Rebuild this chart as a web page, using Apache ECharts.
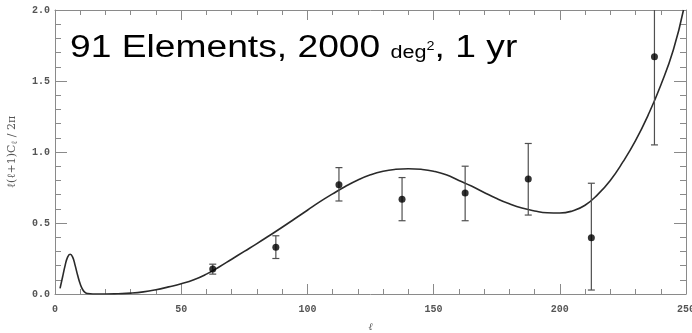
<!DOCTYPE html>
<html>
<head>
<meta charset="utf-8">
<script src="https://cdn.jsdelivr.net/npm/echarts@6/dist/echarts.min.js"></script>
<style>
html,body{margin:0;padding:0;background:#fff;}
#chart{width:692px;height:333px;}
</style>
</head>
<body>
<div id="chart"></div>
<script>
// Binned data points: multipole, value, lower and upper error
var binL   = [62.5, 87.5, 112.5, 137.5, 162.5, 187.5, 212.5, 237.5];
var binV   = [0.176, 0.33, 0.77, 0.667, 0.711, 0.81, 0.397, 1.67];
var binLo  = [0.14, 0.25, 0.655, 0.516, 0.516, 0.556, 0.028, 1.05];
var binHi  = [0.21, 0.41, 0.89, 0.82, 0.90, 1.06, 0.78, 2.3];

// Theory curve
var curveL = [2, 3, 4, 5, 6, 7, 8, 9, 10, 11, 12, 13, 15, 20, 25, 30, 35, 40, 45, 50,
              55, 60, 65, 70, 75, 80, 85, 90, 95, 100, 105, 110, 115, 120, 125, 130,
              135, 140, 145, 150, 155, 160, 165, 170, 175, 180, 185, 190, 195, 200,
              205, 210, 215, 220, 225, 230, 235, 240, 245, 249];
var curveV = [0.04, 0.12, 0.2, 0.26, 0.28, 0.26, 0.2, 0.13, 0.07, 0.03, 0.01, 0.003, 0.0, 0.0, 0.002, 0.006, 0.015, 0.03, 0.05, 0.072,
              0.1, 0.14, 0.19, 0.245, 0.3, 0.355, 0.412, 0.47, 0.53, 0.59, 0.65, 0.705, 0.757, 0.803, 0.84, 0.865,
              0.878, 0.882, 0.878, 0.865, 0.84, 0.80, 0.76, 0.715, 0.672, 0.635, 0.605, 0.585, 0.572, 0.57,
              0.585, 0.625, 0.70, 0.80, 0.93, 1.08, 1.26, 1.47, 1.72, 2.0];

var xTicks = [0, 50, 100, 150, 200, 250];
var yTicks = [0.0, 0.5, 1.0, 1.5, 2.0];

var chart = echarts.init(document.getElementById('chart'), null, {renderer: 'canvas'});

var axisCol = '#8a8a8a';
var labelFont = {color: '#555', fontFamily: 'Liberation Mono', fontWeight: 'bold', fontSize: 10};

function xAxisCfg(pos, show) {
  return {
    type: 'value', position: pos, min: xTicks[0], max: xTicks[xTicks.length - 1], interval: 50,
    axisLine: {show: true, onZero: false, lineStyle: {color: axisCol, width: 1}},
    axisTick: {show: true, inside: true, length: 10, lineStyle: {color: axisCol}},
    minorTick: {show: true, splitNumber: 5, length: 5, lineStyle: {color: axisCol}},
    splitLine: {show: false},
    axisLabel: Object.assign({show: show, margin: 10, formatter: function (v) { return String(v); }}, labelFont),
    name: show ? 'ℓ' : '', nameLocation: 'middle', nameGap: 28,
    nameTextStyle: {color: '#555', fontFamily: 'DejaVu Serif', fontStyle: 'italic', fontSize: 10}
  };
}
function yAxisCfg(pos, show) {
  return {
    type: 'value', position: pos, min: yTicks[0], max: yTicks[yTicks.length - 1], interval: 0.5,
    axisLine: {show: true, onZero: false, lineStyle: {color: axisCol, width: 1}},
    axisTick: {show: true, inside: true, length: 12, lineStyle: {color: axisCol}},
    minorTick: {show: true, splitNumber: 5, length: 6, lineStyle: {color: axisCol}},
    splitLine: {show: false},
    axisLabel: Object.assign({show: show, margin: 5, formatter: function (v) { return v.toFixed(1); }}, labelFont),
    name: show ? '{a|ℓ(ℓ+1)C}{s|ℓ}{a| / 2π}' : '', nameLocation: 'middle', nameGap: 36,
    nameTextStyle: {
      rich: {
        a: {color: '#555', fontFamily: 'DejaVu Serif', fontSize: 11},
        s: {color: '#555', fontFamily: 'DejaVu Serif', fontSize: 8, padding: [5, 0, 0, 0]}
      }
    }
  };
}

var pts = binL.map(function (l, i) { return [l, binV[i]]; });
var errs = binL.map(function (l, i) { return [l, binLo[i], binHi[i]]; });
var curve = curveL.map(function (l, i) { return [l, curveV[i]]; });

chart.setOption({
  animation: false,
  backgroundColor: '#fff',
  grid: {left: 55, right: 6, top: 10, bottom: 39, outerBoundsMode: 'none', containLabel: false},
  xAxis: [xAxisCfg('bottom', true), xAxisCfg('top', false)],
  yAxis: [yAxisCfg('left', true), yAxisCfg('right', false)],
  graphic: [{
    type: 'text', left: 70, top: 33, scaleX: 1.2,
    style: {
      text: '{a|91 Elements, 2000 }{b|deg}{c|2}{a|, 1 yr}',
      rich: {
        a: {fontFamily: 'Liberation Sans', fontSize: 31, fill: '#000', verticalAlign: 'bottom'},
        b: {fontFamily: 'Liberation Sans', fontSize: 18, fill: '#000', verticalAlign: 'bottom', padding: [0, 0, 2, 0]},
        c: {fontFamily: 'Liberation Sans', fontSize: 12, fill: '#000', verticalAlign: 'bottom', padding: [0, 0, 11, 0]}
      }
    }
  }],
  series: [
    {
      type: 'line', data: curve, smooth: 0.5, showSymbol: false, clip: true,
      lineStyle: {color: '#2a2a2a', width: 1.6}, z: 3
    },
    {
      type: 'custom', data: errs, clip: true, z: 4,
      renderItem: function (params, api) {
        var x = api.value(0);
        var lo = api.coord([x, api.value(1)]);
        var hi = api.coord([x, api.value(2)]);
        var top = params.coordSys.y;
        var children = [];
        var hiY = Math.max(hi[1], top);
        children.push({type: 'line', shape: {x1: lo[0], y1: lo[1], x2: lo[0], y2: hiY}, style: {stroke: '#505050', lineWidth: 1.2}});
        children.push({type: 'line', shape: {x1: lo[0] - 3.5, y1: lo[1], x2: lo[0] + 3.5, y2: lo[1]}, style: {stroke: '#505050', lineWidth: 1.2}});
        if (hi[1] >= top) {
          children.push({type: 'line', shape: {x1: hi[0] - 3.5, y1: hi[1], x2: hi[0] + 3.5, y2: hi[1]}, style: {stroke: '#505050', lineWidth: 1.2}});
        }
        return {type: 'group', children: children};
      }
    },
    {
      type: 'scatter', data: pts, symbol: 'circle', symbolSize: 7, z: 5,
      itemStyle: {color: '#000'}
    }
  ]
});
</script>
</body>
</html>
